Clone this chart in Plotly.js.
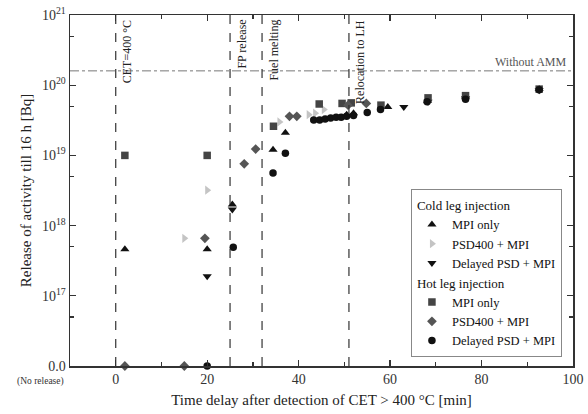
<!DOCTYPE html>
<html>
<head>
<meta charset="utf-8">
<script src="https://cdn.plot.ly/plotly-3.0.1.min.js"></script>
<style>html,body{margin:0;padding:0;background:#fff;}#chart{width:588px;height:414px;}</style>
</head>
<body>
<div id="chart"></div>
<script>
// ---- data (0 = no release) ----
const coldMpiX = [2, 20, 25.5, 34.4, 37.1, 50.5, 52, 59.5, 68.2, 76.5, 92.6];
const coldMpiY = [4.6e17, 4.6e17, 2.0e18, 1.2e19, 2.1e19, 3.8e19, 4.0e19, 4.9e19, 6.0e19, 6.9e19, 8.8e19];

const coldPsdX = [15, 20, 35.8, 42.2, 43.6, 45.5];
const coldPsdY = [6.6e17, 3.2e18, 3.0e19, 3.8e19, 4.0e19, 4.5e19];

const coldDelX = [20, 25.5, 63, 68.3, 76.5, 92.6];
const coldDelY = [1.9e17, 1.7e18, 4.9e19, 5.8e19, 6.5e19, 8.5e19];

const hotMpiX = [2, 20, 34.5, 44.5, 49.5, 51.5, 58, 68.3, 76.5, 92.6];
const hotMpiY = [1e19, 1e19, 2.6e19, 5.4e19, 5.5e19, 5.6e19, 5.2e19, 6.6e19, 7.1e19, 8.8e19];

const hotPsdX = [2, 15, 19.5, 28.1, 30.6, 38, 39.6, 50.8, 54.8];
const hotPsdY = [0, 0, 6.6e17, 7.6e18, 1.23e19, 3.6e19, 3.6e19, 5.2e19, 5.5e19];

const hotDelX = [20, 25.7, 34.4, 37.1, 43.3, 44.6, 45.8, 47, 48.2, 49.3, 50.5, 52, 55, 57.9, 68.1, 76.5, 92.6];
const hotDelY = [0, 4.9e17, 5.6e18, 1.07e19, 3.2e19, 3.2e19, 3.3e19, 3.4e19, 3.5e19, 3.5e19, 3.6e19, 3.7e19, 4.1e19, 4.5e19, 5.8e19, 6.3e19, 8.6e19];

const eventX = [0, 25, 32, 51];
const eventLabels = ["CET=400 °C", "FP release", "Fuel melting", "Relocation to LH"];
const withoutAMM = 1.6e20;

const yTickVals = [1e16, 1e17, 1e18, 1e19, 1e20, 1e21];
const yTickText = ["0.0", "10<sup>17</sup>", "10<sup>18</sup>", "10<sup>19</sup>", "10<sup>20</sup>", "10<sup>21</sup>"];
const yMinorVals = [5e16, 5e17, 5e18, 5e19, 5e20];
const xTickVals = [0, 20, 40, 60, 80, 100];

// ---- build ----
const FONT = "Liberation Serif, Times New Roman, serif";
const NO_RELEASE = 1e16;
const mapY = arr => arr.map(v => v === 0 ? NO_RELEASE : v);

function tr(x, y, name, group, title, symbol, color, size) {
  const t = {
    x: x, y: mapY(y), name: name, type: 'scatter', mode: 'markers',
    legendgroup: group, cliponaxis: false,
    marker: {symbol: symbol, color: color, size: size, line: {width: 0}}
  };
  if (title) t.legendgrouptitle = {text: title, font: {family: FONT, size: 13, color: '#111'}};
  return t;
}

const traces = [
  {x: [-10, 100], y: [withoutAMM, withoutAMM], mode: 'lines', showlegend: false, hoverinfo: 'skip',
   line: {color: '#777', width: 1, dash: 'dashdot'}},
  tr(coldMpiX, coldMpiY, 'MPI only', 'cold', 'Cold leg injection', 'triangle-up', '#111', 8),
  tr(coldPsdX, coldPsdY, 'PSD400 + MPI', 'cold', null, 'triangle-right', '#c4c4c4', 8),
  tr(coldDelX, coldDelY, 'Delayed PSD + MPI', 'cold', null, 'triangle-down', '#111', 8),
  tr(hotMpiX, hotMpiY, 'MPI only', 'hot', 'Hot leg injection', 'square', '#444', 7.5),
  tr(hotPsdX, hotPsdY, 'PSD400 + MPI', 'hot', null, 'diamond', '#555', 7.5),
  tr(hotDelX, hotDelY, 'Delayed PSD + MPI', 'hot', null, 'circle', '#111', 7.5)
];

const shapes = eventX.map(x => ({
  type: 'line', xref: 'x', yref: 'paper', x0: x, x1: x, y0: 0, y1: 1,
  line: {color: '#333', width: 1.2, dash: 'dash'}
}));

const annotations = eventX.map((x, i) => ({
  x: x, xref: 'x', y: 1, yref: 'paper', text: eventLabels[i], textangle: -90,
  xanchor: 'left', yanchor: 'top', showarrow: false, xshift: 2, yshift: -3,
  font: {family: FONT, size: 12, color: '#222'}
}));
annotations.push({
  x: 100, xref: 'x', y: Math.log10(withoutAMM), yref: 'y', text: 'Without AMM',
  xanchor: 'right', yanchor: 'bottom', showarrow: false, xshift: -4, yshift: 0,
  font: {family: FONT, size: 12, color: '#555'}
});
annotations.push({
  x: -0.058, xref: 'paper', y: 16, yref: 'y', text: '(No release)',
  xanchor: 'center', yanchor: 'middle', showarrow: false, yshift: -15,
  font: {family: FONT, size: 9.5, color: '#333'}
});

const axisCommon = {
  showline: true, linecolor: '#333', linewidth: 1.5, mirror: 'ticks',
  ticks: 'inside', ticklen: 6, tickwidth: 1.2, tickcolor: '#333',
  showgrid: false, zeroline: false,
  tickfont: {family: FONT, size: 14, color: '#333'}
};

const layout = {
  width: 588, height: 414,
  margin: {l: 70, r: 15, t: 15, b: 48},
  paper_bgcolor: '#fff', plot_bgcolor: '#fff',
  font: {family: FONT, color: '#222'},
  showlegend: true,
  xaxis: Object.assign({}, axisCommon, {
    range: [-10, 100], tickmode: 'array', tickvals: xTickVals,
    minor: {dtick: 10, tick0: 0, ticks: 'inside', ticklen: 4, tickcolor: '#333'},
    title: {text: 'Time delay after detection of CET > 400 °C [min]', font: {family: FONT, size: 15, color: '#222'}, standoff: 8}
  }),
  yaxis: Object.assign({}, axisCommon, {
    type: 'log', range: [16, 21], tickmode: 'array', tickvals: yTickVals, ticktext: yTickText,
    minor: {tickmode: 'array', tickvals: yMinorVals, ticks: 'inside', ticklen: 4, tickcolor: '#333'},
    title: {text: 'Release of activity till 16 h [Bq]', font: {family: FONT, size: 15, color: '#222'}, standoff: 6}
  }),
  legend: {
    x: 0.978, xanchor: 'right', y: 0.026, yanchor: 'bottom',
    bgcolor: '#fff', bordercolor: '#888', borderwidth: 1,
    font: {family: FONT, size: 12.5, color: '#111'},
    tracegroupgap: 0
  },
  shapes: shapes,
  annotations: annotations
};

Plotly.newPlot('chart', traces, layout, {staticPlot: true, displayModeBar: false});
</script>
</body>
</html>
